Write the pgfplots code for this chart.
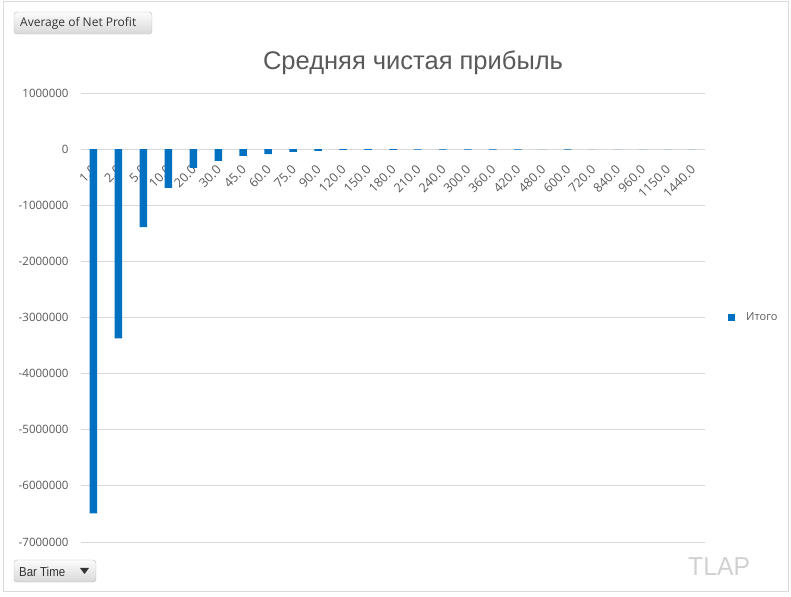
\documentclass[border=0pt]{standalone}
\usepackage{pgfplots}
\pgfplotsset{compat=1.18}
\usepackage{fontspec}
\setmainfont{Open Sans}
\newfontfamily\titlefont{Liberation Sans}
\definecolor{barc}{HTML}{0070C0}
\definecolor{gridc}{HTML}{D9D9D9}
\definecolor{textc}{HTML}{595959}
\definecolor{framec}{HTML}{DADADA}
\begin{document}
\begin{tikzpicture}[x=1pt,y=1pt]
\path[use as bounding box] (0,0) rectangle (791,596);
\draw[framec, line width=1pt] (3.5,4.5) rectangle (788,594);
% title
\node[font=\titlefont\fontsize{25.5}{29}\selectfont, text=textc, anchor=base] at (413,526) {Средняя чистая прибыль};
% buttons
\draw[rounded corners=3pt, draw=gray!55, top color=gray!3, bottom color=gray!30] (14,562) rectangle (152,584);
\node[font=\fontsize{12}{13}\selectfont, text=black!80, anchor=west, inner sep=0pt] at (20,573) {Average of Net Profit};
\draw[rounded corners=3pt, draw=gray!55, top color=gray!3, bottom color=gray!30] (14,14) rectangle (96,36);
\node[font=\titlefont\fontsize{13}{14}\selectfont, text=black!80, anchor=west, xscale=0.88, inner sep=0pt] at (19,24.5) {Bar Time};
\fill[black!80] (80,28) -- (89,28) -- (84.5,22) -- cycle;
% watermark
\node[font=\titlefont\fontsize{26}{28}\selectfont, text=black!18, anchor=base west, xscale=0.95, inner sep=0pt] at (688,20) {TLAP};
\begin{axis}[
  at={(81pt,54pt)}, anchor=south west,
  scale only axis, width=624pt, height=449pt,
  xmin=-0.5, xmax=24.5, ymin=-7000000, ymax=1000000,
  axis x line*=middle, axis y line*=left,
  axis line style={draw=none},
  major tick length=0pt,
  ytick={-7000000,-6000000,-5000000,-4000000,-3000000,-2000000,-1000000,0,1000000},
  scaled y ticks=false,
  /pgf/number format/.cd, fixed, 1000 sep={}, assume math mode=true, /pgfplots/.cd,
  ymajorgrids, grid style={gridc, line width=0.8pt},
  yticklabel style={font=\fontsize{11.5}{13}\selectfont, text=textc, anchor=east, xshift=-9pt},
  xtick={0,...,24},
  xticklabels={1.0,2.0,5.0,10.0,20.0,30.0,45.0,60.0,75.0,90.0,120.0,150.0,180.0,210.0,240.0,300.0,360.0,420.0,480.0,600.0,720.0,840.0,960.0,1150.0,1440.0},
  xticklabel style={font=\fontsize{12.5}{14}\selectfont, text=textc, xshift=3pt, yshift=-16pt, rotate=45, anchor=east},
  legend style={at={(axis description cs:1,0.5)}, anchor=west, xshift=20pt, draw=none, fill=none,
    font=\fontsize{11}{13}\selectfont, text=textc},
  legend image code/.code={\fill[barc] (3pt,-3.5pt) rectangle (10pt,3.5pt); \path (19pt,0pt);},
]
\addplot[ybar, bar width=7.5pt, fill=barc, draw=none] coordinates {
(0,-6490000) (1,-3370000) (2,-1390000) (3,-690000) (4,-333000) (5,-210000)
(6,-120000) (7,-90000) (8,-50000) (9,-30000) (10,-15000) (11,-12000) (12,-12000)
(13,-10000) (14,-10000) (15,-10000) (16,-10000) (17,-10000) (18,0) (19,-10000)
(20,0) (21,0) (22,0) (23,0) (24,0)
};
\addlegendentry{Итого}
\end{axis}
\end{tikzpicture}
\end{document}
